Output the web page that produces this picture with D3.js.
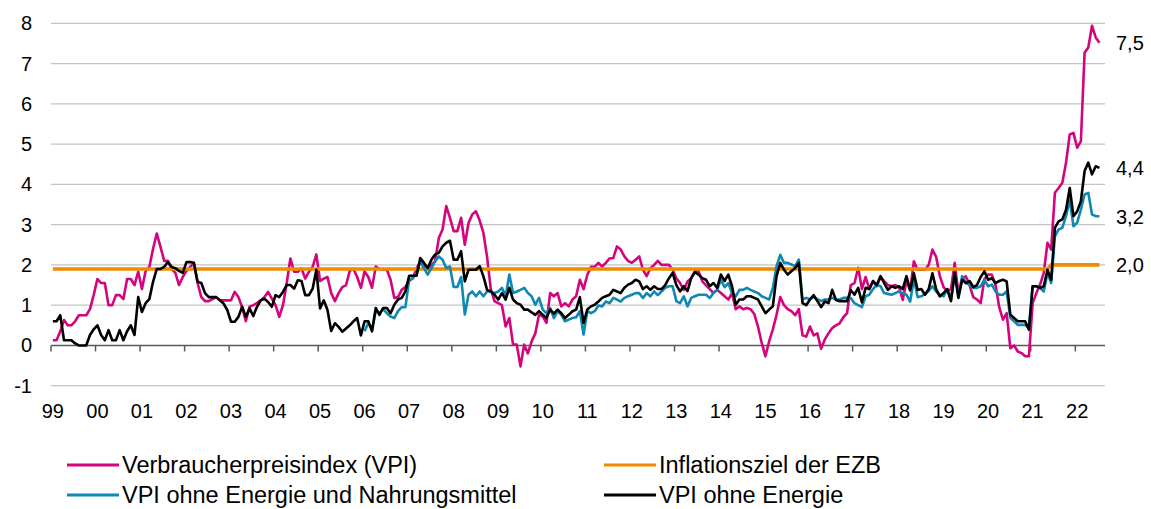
<!DOCTYPE html>
<html>
<head>
<meta charset="utf-8">
<script src="https://cdn.jsdelivr.net/npm/d3@7"></script>
<style>
  body { margin: 0; background: #fff; }
  text { font-family: "Liberation Sans", Arial, sans-serif; fill: #000; }
</style>
</head>
<body>
<svg id="chart" width="1151" height="509"></svg>
<script>
// Monatswerte, Veraenderung ggü. Vorjahr in %, ab Januar 1999
var startJahr = 1999;
var jahresLabels = ["99", "00", "01", "02", "03", "04", "05", "06", "07", "08", "09", "10",
    "11", "12", "13", "14", "15", "16", "17", "18", "19", "20", "21", "22"];
var yTicks = [-1, 0, 1, 2, 3, 4, 5, 6, 7, 8];

var vpi = [
    0.13, 0.13, 0.35, 0.63, 0.5, 0.5, 0.6, 0.75, 0.75, 0.75, 0.9, 1.25,      // 1999
    1.65, 1.55, 1.55, 1.0, 1.0, 1.25, 1.25, 1.15, 1.65, 1.65, 1.5, 1.83,     // 2000
    1.4, 1.85, 1.95, 2.4, 2.78, 2.45, 2.1, 2.1, 1.9, 1.8, 1.5, 1.7,          // 2001
    1.85, 1.95, 2.05, 1.55, 1.2, 1.1, 1.1, 1.15, 1.2, 1.12, 1.12, 1.12,      // 2002
    1.12, 1.33, 1.2, 0.95, 0.6, 0.96, 1.0, 1.05, 1.12, 1.2, 1.33, 1.16,      // 2003
    1.0, 0.71, 1.0, 1.54, 2.16, 1.83, 1.83, 1.91, 1.66, 1.83, 1.95, 2.26,    // 2004
    1.6, 1.66, 1.7, 1.3, 1.1, 1.3, 1.45, 1.5, 1.85, 1.9, 1.7, 1.43,          // 2005
    1.84, 1.7, 1.43, 1.96, 1.9, 1.88, 1.88, 1.63, 1.18, 1.2, 1.38, 1.45,     // 2006
    1.6, 1.67, 1.92, 2.05, 1.96, 1.88, 2.0, 2.09, 2.67, 2.88, 3.46, 3.17,    // 2007
    2.84, 2.84, 3.17, 2.5, 3.04, 3.25, 3.33, 3.1, 2.8, 2.2, 1.4, 1.1,        // 2008
    1.05, 1.0, 0.47, 0.68, 0.02, 0.02, -0.52, 0.02, -0.2, 0.1, 0.3, 0.76,    // 2009
    0.72, 0.56, 1.3, 1.22, 1.3, 0.97, 1.05, 0.97, 1.14, 1.22, 1.63, 1.4,     // 2010
    1.75, 1.95, 1.95, 2.05, 1.96, 2.05, 2.16, 2.17, 2.46, 2.38, 2.21, 2.1,   // 2011
    2.05, 2.13, 2.21, 1.88, 1.72, 1.92, 2.0, 2.1, 2.0, 2.0, 2.0, 1.88,       // 2012
    1.67, 1.55, 1.38, 1.59, 1.67, 1.84, 1.84, 1.59, 1.49, 1.4, 1.3, 1.38,    // 2013
    1.3, 1.22, 1.14, 1.3, 0.9, 0.97, 0.9, 0.93, 0.9, 0.78, 0.47, 0.06,       // 2014
    -0.27, 0.1, 0.4, 0.76, 1.2, 1.0, 0.9, 0.85, 0.75, 0.9, 0.25, 0.22,       // 2015
    0.47, 0.25, 0.3, -0.08, 0.15, 0.3, 0.43, 0.5, 0.55, 0.7, 0.8, 1.5,       // 2016
    1.55, 1.93, 1.4, 1.7, 1.4, 1.6, 1.47, 1.7, 1.6, 1.5, 1.47, 1.5,          // 2017
    1.45, 1.13, 1.6, 1.37, 2.09, 1.88, 1.88, 1.88, 2.0, 2.38, 2.2, 1.72,     // 2018
    1.45, 1.35, 1.4, 2.05, 1.3, 1.63, 1.72, 1.5, 1.2, 1.14, 1.05, 1.65,      // 2019
    1.76, 1.76, 1.5, 0.95, 0.64, 0.8, -0.07, 0.0, -0.15, -0.19, -0.27, -0.27, // 2020
    1.05, 1.3, 1.51, 1.8, 2.55, 2.38, 3.79, 3.91, 4.04, 4.54, 5.24, 5.28,    // 2021
    4.91, 5.07, 7.27, 7.4, 7.94, 7.65, 7.52                                  // 2022
];

var vpiOhneEnergie = [
    0.6, 0.6, 0.75, 0.13, 0.13, 0.13, 0.05, 0.0, 0.0, 0.0, 0.26, 0.4,
    0.5, 0.26, 0.13, 0.38, 0.13, 0.13, 0.38, 0.13, 0.35, 0.5, 0.26, 1.2,
    0.83, 1.05, 1.15, 1.58, 1.9, 1.9, 1.95, 2.07, 1.95, 1.92, 1.85, 1.8,
    2.07, 2.07, 2.05, 1.58, 1.55, 1.3, 1.2, 1.2, 1.2, 1.12, 1.04, 0.88,
    0.59, 0.59, 0.71, 0.96, 0.71, 0.92, 0.73, 0.96, 1.12, 1.16, 1.08, 0.96,
    1.25, 1.2, 1.33, 1.5, 1.5, 1.41, 1.62, 1.6, 1.25, 1.25, 1.41, 1.88,
    0.92, 1.12, 0.88, 0.36, 0.55, 0.46, 0.34, 0.42, 0.5, 0.6, 0.68, 0.25,
    0.6, 0.6, 0.35, 0.93, 0.76, 0.93, 0.93, 0.8, 1.01, 1.14, 1.18, 1.34,
    1.73, 1.73, 1.73, 2.17, 2.05, 1.92, 2.13, 2.26, 2.3, 2.46, 2.55, 2.6,
    2.13, 2.13, 2.34, 1.59, 1.88, 1.88, 1.88, 1.97, 1.72, 1.38, 1.34, 1.26,
    1.14, 1.3, 1.14, 1.43, 1.14, 1.05, 1.01, 0.89, 0.89, 0.82, 0.76, 0.85,
    0.76, 0.68, 0.89, 0.79, 0.89, 0.8, 0.68, 0.76, 0.85, 0.89, 1.2, 0.56,
    0.89, 0.97, 1.01, 1.09, 1.18, 1.22, 1.26, 1.38, 1.34, 1.3, 1.43, 1.51,
    1.55, 1.63, 1.59, 1.4, 1.47, 1.38, 1.47, 1.4, 1.4, 1.5, 1.67, 1.8,
    1.5, 1.34, 1.47, 1.35, 1.67, 1.82, 1.76, 1.67, 1.63, 1.47, 1.55, 1.43,
    1.76, 1.6, 1.76, 1.47, 1.01, 1.14, 1.14, 1.22, 1.22, 1.18, 1.14, 0.97,
    0.8, 0.89, 0.97, 1.72, 2.05, 1.88, 1.76, 1.84, 1.92, 2.05, 1.05, 1.0,
    1.14, 1.25, 1.1, 0.95, 1.09, 1.05, 1.38, 1.13, 1.1, 1.1, 1.1, 1.37,
    1.26, 1.43, 1.07, 1.43, 1.4, 1.6, 1.5, 1.72, 1.55, 1.38, 1.47, 1.43,
    1.47, 1.4, 1.72, 1.37, 1.79, 1.38, 1.4, 1.26, 1.4, 1.79, 1.4, 1.22,
    1.3, 1.4, 1.1, 1.8, 1.18, 1.63, 1.55, 1.6, 1.45, 1.5, 1.7, 1.84,
    1.63, 1.67, 1.55, 1.6, 1.63, 1.59, 0.76, 0.68, 0.6, 0.6, 0.6, 0.39,
    1.47, 1.47, 1.43, 1.47, 1.88, 1.63, 2.92, 3.08, 3.13, 3.37, 3.91, 3.21,
    3.33, 3.58, 4.33, 4.54, 4.25, 4.45, 4.41
];

// VPI ohne Energie und Nahrungsmittel, erst ab Januar 2006
var kernStart = 84;
var vpiKern = [
    0.35, 0.56, 0.4, 0.85, 0.8, 0.9, 0.8, 0.72, 0.68, 0.85, 0.95, 0.95,
    1.63, 1.67, 1.8, 2.09, 1.92, 1.76, 1.92, 2.09, 2.21, 2.13, 1.92, 1.96,
    1.45, 1.45, 1.7, 0.77, 1.26, 1.34, 1.22, 1.34, 1.22, 1.34, 1.34, 1.3,
    1.34, 1.43, 1.22, 1.76, 1.3, 1.34, 1.38, 1.43, 1.3, 1.22, 1.01, 1.18,
    0.89, 0.8, 0.93, 0.68, 0.85, 0.76, 0.6, 0.64, 0.68, 0.7, 0.85, 0.27,
    0.85, 0.8, 0.85, 0.99, 0.97, 1.09, 1.05, 1.18, 1.14, 1.09, 1.18, 1.22,
    1.26, 1.3, 1.3, 1.18, 1.3, 1.22, 1.34, 1.25, 1.34, 1.43, 1.47, 1.47,
    1.1, 1.05, 1.22, 0.97, 1.18, 1.22, 1.26, 1.26, 1.26, 1.18, 1.3, 1.38,
    1.63, 1.45, 1.55, 1.3, 1.22, 1.38, 1.38, 1.43, 1.38, 1.34, 1.3, 1.22,
    1.18, 1.14, 1.43, 1.97, 2.25, 2.05, 2.05, 2.01, 1.97, 2.13, 1.14, 1.18,
    1.15, 1.2, 1.15, 1.1, 1.14, 1.14, 1.18, 1.14, 1.14, 1.18, 1.18, 1.18,
    1.05, 1.0, 0.95, 1.22, 1.26, 1.4, 1.51, 1.47, 1.3, 1.28, 1.26, 1.3,
    1.34, 1.3, 1.26, 1.09, 1.65, 1.2, 1.22, 1.28, 1.35, 1.47, 1.34, 1.25,
    1.22, 1.39, 1.14, 1.8, 1.22, 1.72, 1.55, 1.51, 1.43, 1.43, 1.47, 1.63,
    1.47, 1.51, 1.34, 1.26, 1.26, 1.34, 0.68, 0.6, 0.51, 0.51, 0.51, 0.43,
    1.47, 1.47, 1.43, 1.34, 1.8, 1.55, 2.71, 2.88, 2.92, 3.21, 3.62, 2.96,
    3.05, 3.37, 3.75, 3.79, 3.25, 3.21, 3.21
];

// Inflationsziel der EZB: 1,9 bis zur Strategieüberprüfung, danach 2,0
var zielWerte = [1.9, 2.0];
var zielWechsel = 269;

var endLabels = [
    { text: "7,5", value: 7.5 },
    { text: "4,4", value: 4.4 },
    { text: "3,2", value: 3.2 },
    { text: "2,0", value: 2.0 }
];

var legende = [
    { name: "Verbraucherpreisindex (VPI)", color: "#d4047f", col: 0, row: 0 },
    { name: "Inflationsziel der EZB", color: "#f08a00", col: 1, row: 0 },
    { name: "VPI ohne Energie und Nahrungsmittel", color: "#0f88b3", col: 0, row: 1 },
    { name: "VPI ohne Energie", color: "#000000", col: 1, row: 1 }
];

function drawChart() {
    var svg = d3.select("#chart");
    var nMonate = vpi.length + 1;

    var x = d3.scaleLinear().domain([0, nMonate]).range([51, 1105]);
    var y = d3.scaleLinear().domain([-1, 8]).range([385.7, 23.3]);

    // gridlines
    svg.append("g")
        .selectAll("line")
        .data(yTicks.filter(function(d) { return d !== 0; }))
        .enter()
        .append("line")
        .attr("x1", x(0)).attr("x2", x(nMonate))
        .attr("y1", function(d) { return y(d); })
        .attr("y2", function(d) { return y(d); })
        .attr("stroke", "#c4c4c4")
        .attr("stroke-width", 1.3);

    // y labels
    svg.append("g")
        .selectAll("text")
        .data(yTicks)
        .enter()
        .append("text")
        .attr("x", 32)
        .attr("y", function(d) { return y(d); })
        .attr("dy", "0.35em")
        .attr("text-anchor", "end")
        .style("font-size", "20px")
        .text(function(d) { return d; });

    // zero axis with yearly ticks
    var jahre = d3.range(jahresLabels.length);
    var axis = svg.append("g").attr("transform", "translate(0," + y(0) + ")");
    axis.append("line")
        .attr("x1", x(0)).attr("x2", x(nMonate))
        .attr("stroke", "#595959")
        .attr("stroke-width", 1.5);
    axis.selectAll("line.tick")
        .data(jahre)
        .enter()
        .append("line")
        .attr("class", "tick")
        .attr("x1", function(d) { return x(d * 12); })
        .attr("x2", function(d) { return x(d * 12); })
        .attr("y1", 0).attr("y2", 6)
        .attr("stroke", "#595959")
        .attr("stroke-width", 1.5);

    svg.append("g")
        .selectAll("text")
        .data(jahre)
        .enter()
        .append("text")
        .attr("x", function(d) { return x(d * 12 + 0.5); })
        .attr("y", 418)
        .attr("text-anchor", "middle")
        .style("font-size", "20px")
        .text(function(d) { return jahresLabels[d]; });

    var line = d3.line()
        .x(function(d) { return x(d[0] + 0.5); })
        .y(function(d) { return y(d[1]); });

    function reihe(werte, offset) {
        return werte.map(function(v, i) { return [i + offset, v]; });
    }

    var ziel = d3.range(vpi.length).map(function(i) {
        return [i, i < zielWechsel ? zielWerte[0] : zielWerte[1]];
    });

    var serien = [
        { data: reihe(vpi, 0), color: legende[0].color, width: 2.6 },
        { data: ziel, color: legende[1].color, width: 3.6 },
        { data: reihe(vpiKern, kernStart), color: legende[2].color, width: 2.6 },
        { data: reihe(vpiOhneEnergie, 0), color: legende[3].color, width: 2.6 }
    ];

    svg.append("g")
        .selectAll("path")
        .data(serien)
        .enter()
        .append("path")
        .attr("d", function(d) { return line(d.data); })
        .attr("fill", "none")
        .attr("stroke", function(d) { return d.color; })
        .attr("stroke-width", function(d) { return d.width; })
        .attr("stroke-linejoin", "round");

    // end value labels
    svg.append("g")
        .selectAll("text")
        .data(endLabels)
        .enter()
        .append("text")
        .attr("x", 1116)
        .attr("y", function(d) { return y(d.value); })
        .attr("dy", "0.35em")
        .style("font-size", "20px")
        .text(function(d) { return d.text; });

    // legend
    var leg = svg.append("g")
        .selectAll("g")
        .data(legende)
        .enter()
        .append("g")
        .attr("transform", function(d) {
            return "translate(" + (d.col ? 604 : 67) + "," + (465 + d.row * 30) + ")";
        });
    leg.append("line")
        .attr("x1", 0).attr("x2", 52)
        .attr("stroke", function(d) { return d.color; })
        .attr("stroke-width", 3);
    leg.append("text")
        .attr("x", 55)
        .attr("dy", "0.35em")
        .style("font-size", "23.5px")
        .text(function(d) { return d.name; });
}

drawChart();
</script>
</body>
</html>
